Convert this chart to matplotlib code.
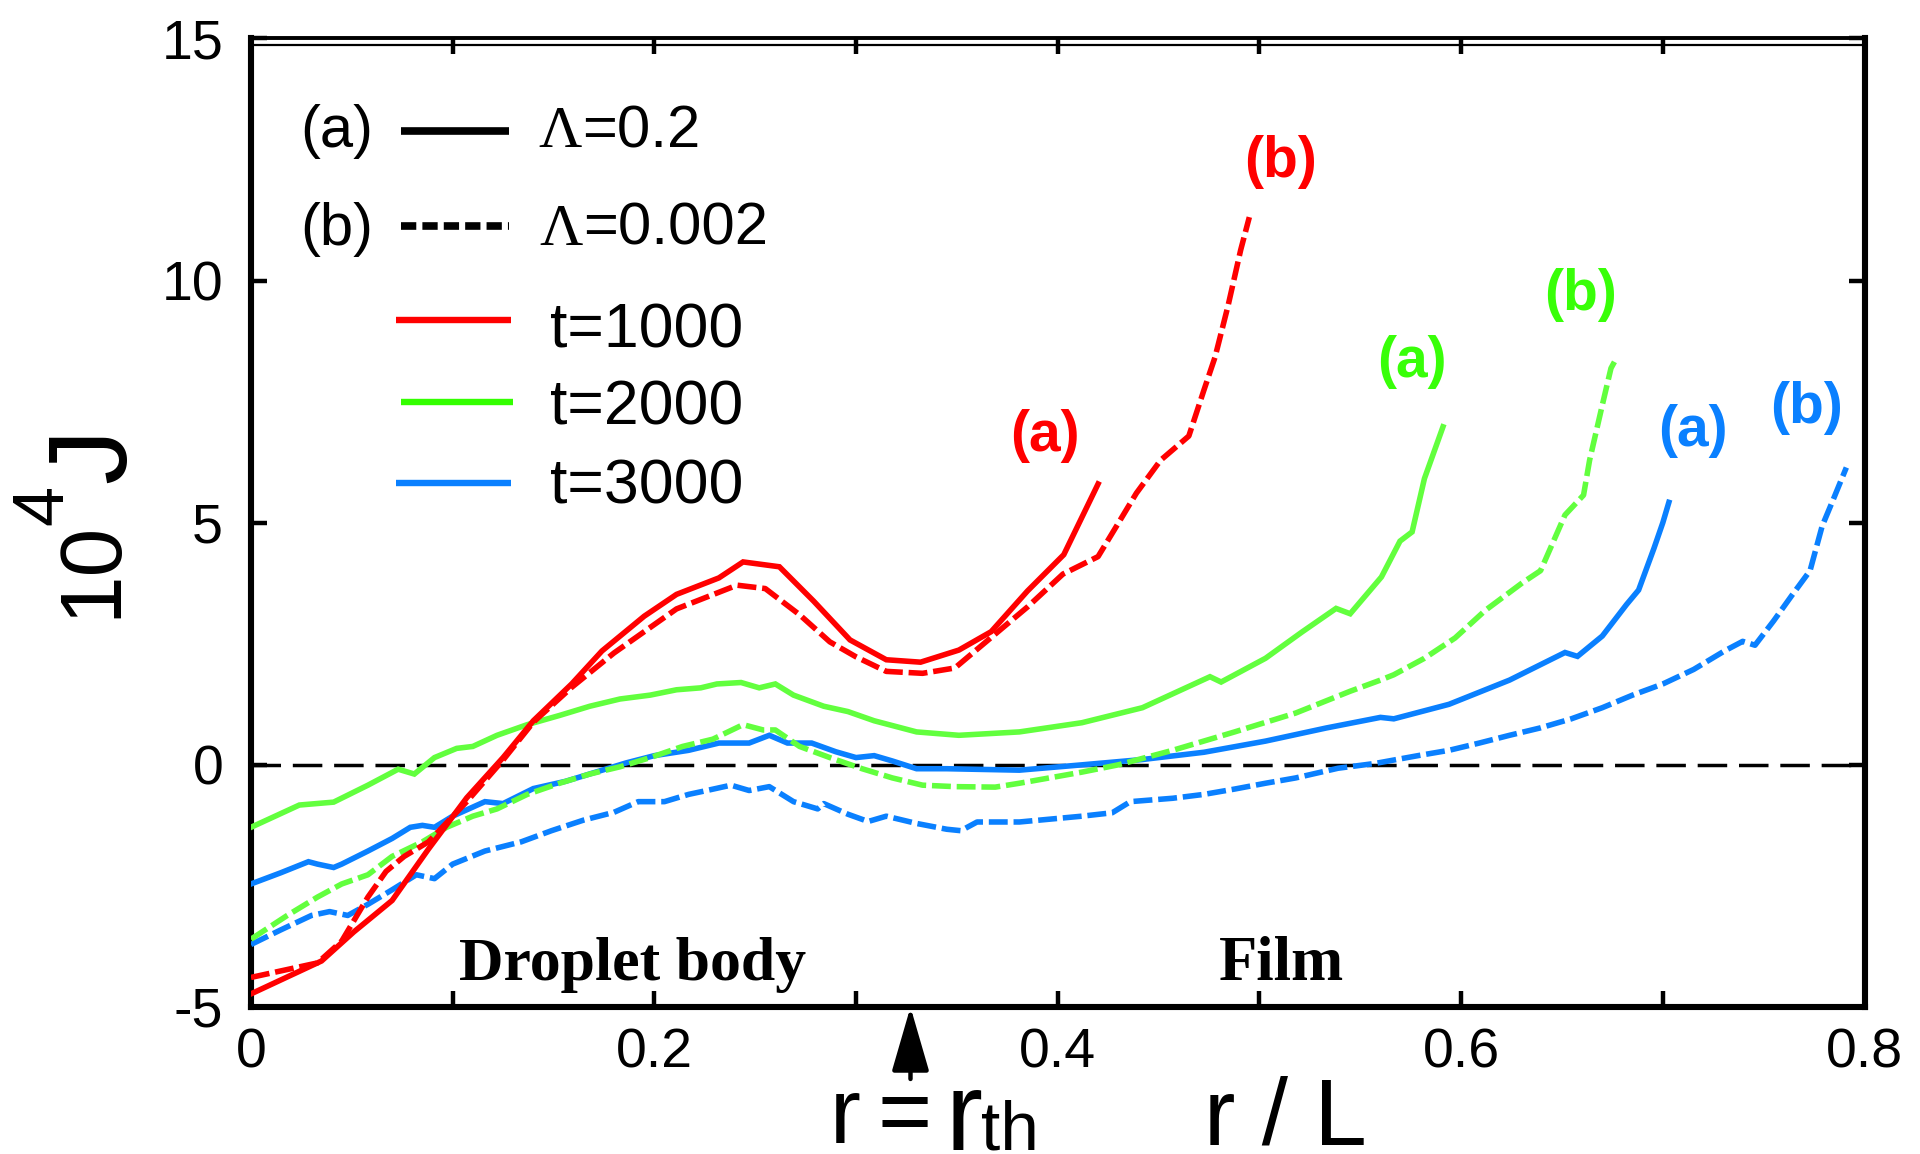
import matplotlib
matplotlib.use("Agg")
import matplotlib.pyplot as plt
from matplotlib.ticker import FixedLocator, FuncFormatter

plt.rcParams['font.family'] = ['Liberation Sans', 'DejaVu Sans']

# ---------------- data: 10^4 J versus r / L ----------------
# t = 1000
x_t1000_a = [0, 0.035, 0.051, 0.07, 0.088, 0.107, 0.125, 0.14, 0.159, 0.174, 0.195, 0.211,
             0.232, 0.244, 0.262, 0.279, 0.297, 0.315, 0.332, 0.351, 0.367, 0.385, 0.403, 0.42]
y_t1000_a = [-4.73, -4.05, -3.45, -2.8, -1.74, -0.68, 0.15, 0.91, 1.67, 2.35, 3.07, 3.52,
             3.86, 4.19, 4.09, 3.38, 2.58, 2.17, 2.12, 2.37, 2.75, 3.59, 4.34, 5.80]
x_t1000_b = [0, 0.033, 0.045, 0.058, 0.067, 0.076, 0.088, 0.107, 0.125, 0.14, 0.159, 0.18,
             0.211, 0.241, 0.255, 0.272, 0.287, 0.3, 0.315, 0.333, 0.349, 0.367, 0.385, 0.4026,
             0.42, 0.428, 0.439, 0.451, 0.465, 0.4725, 0.478, 0.4845, 0.4907, 0.495]
y_t1000_b = [-4.39, -4.09, -3.64, -2.73, -2.2, -1.89, -1.59, -0.76, 0.1, 0.88, 1.6, 2.31,
             3.22, 3.71, 3.64, 3.1, 2.54, 2.23, 1.93, 1.89, 2.0, 2.63, 3.26, 3.94,
             4.3, 4.85, 5.61, 6.29, 6.79, 7.74, 8.42, 9.49, 10.63, 11.31]

# t = 2000
x_t2000_a = [0, 0.024, 0.041, 0.058, 0.073, 0.081, 0.091, 0.102, 0.11, 0.122, 0.137, 0.153,
             0.168, 0.183, 0.198, 0.211, 0.223, 0.231, 0.243, 0.252, 0.26, 0.269, 0.284,
             0.296, 0.309, 0.33, 0.351, 0.381, 0.412, 0.442, 0.4755, 0.481, 0.503, 0.521,
             0.538, 0.545, 0.5605, 0.5697, 0.5757, 0.5818, 0.591]
y_t2000_a = [-1.29, -0.83, -0.77, -0.42, -0.09, -0.19, 0.15, 0.34, 0.38, 0.61, 0.83, 1.02,
             1.21, 1.36, 1.44, 1.55, 1.59, 1.67, 1.70, 1.59, 1.67, 1.44, 1.21,
             1.10, 0.91, 0.68, 0.61, 0.68, 0.87, 1.18, 1.82, 1.71, 2.2, 2.74,
             3.23, 3.12, 3.88, 4.62, 4.81, 5.91, 6.98]
x_t2000_b = [0, 0.018, 0.033, 0.045, 0.058, 0.07, 0.085, 0.097, 0.11, 0.122, 0.137, 0.153,
             0.168, 0.183, 0.198, 0.214, 0.229, 0.244, 0.254, 0.26, 0.272, 0.287, 0.303,
             0.318, 0.333, 0.349, 0.369, 0.381, 0.412, 0.43, 0.457, 0.4877, 0.518, 0.545,
             0.56, 0.5666, 0.5818, 0.597, 0.612, 0.6304, 0.6394, 0.6515, 0.6607, 0.6637,
             0.67, 0.6743, 0.6773]
y_t2000_b = [-3.6, -3.11, -2.73, -2.46, -2.27, -1.89, -1.59, -1.29, -1.06, -0.91, -0.61, -0.38,
             -0.19, -0.04, 0.15, 0.38, 0.53, 0.83, 0.72, 0.72, 0.38, 0.15, -0.08,
             -0.27, -0.42, -0.45, -0.46, -0.38, -0.15, 0.0, 0.30, 0.68, 1.07, 1.52,
             1.75, 1.86, 2.20, 2.62, 3.19, 3.76, 4.01, 5.16, 5.57, 6.29,
             7.43, 8.19, 8.42]

# t = 3000
x_t3000_a = [0, 0.0147, 0.0285, 0.033, 0.041, 0.045, 0.058, 0.07, 0.079, 0.085, 0.091, 0.1,
             0.116, 0.125, 0.14, 0.156, 0.171, 0.186, 0.2, 0.217, 0.232, 0.247, 0.257,
             0.266, 0.278, 0.29, 0.3, 0.309, 0.318, 0.33, 0.345, 0.381, 0.412, 0.442,
             0.4725, 0.503, 0.533, 0.56, 0.5666, 0.594, 0.624, 0.6515, 0.6577, 0.67,
             0.682, 0.688, 0.6956, 0.700, 0.703]
y_t3000_a = [-2.46, -2.23, -2.0, -2.05, -2.12, -2.05, -1.78, -1.52, -1.29, -1.25, -1.29, -1.06,
             -0.76, -0.8, -0.49, -0.34, -0.15, 0.04, 0.19, 0.30, 0.45, 0.45, 0.61,
             0.45, 0.45, 0.27, 0.15, 0.19, 0.08, -0.08, -0.08, -0.11, 0.0, 0.11,
             0.26, 0.49, 0.76, 0.98, 0.95, 1.25, 1.75, 2.32, 2.24, 2.66,
             3.31, 3.61, 4.47, 5.0, 5.42]
x_t3000_b = [0, 0.0147, 0.03, 0.039, 0.048, 0.058, 0.07, 0.082, 0.091, 0.1, 0.116, 0.134,
             0.149, 0.165, 0.18, 0.192, 0.205, 0.217, 0.226, 0.238, 0.247, 0.257, 0.269,
             0.281, 0.284, 0.296, 0.306, 0.315, 0.33, 0.345, 0.352, 0.36, 0.381, 0.412,
             0.427, 0.436, 0.457, 0.4725, 0.4877, 0.503, 0.518, 0.539, 0.5575, 0.5786,
             0.594, 0.609, 0.624, 0.639, 0.6546, 0.67, 0.685, 0.70, 0.7153, 0.7305,
             0.7396, 0.7457, 0.7549, 0.764, 0.773, 0.779, 0.785, 0.791]
y_t3000_b = [-3.71, -3.41, -3.11, -3.03, -3.11, -2.88, -2.58, -2.27, -2.35, -2.05, -1.78, -1.59,
             -1.36, -1.14, -0.98, -0.76, -0.76, -0.61, -0.53, -0.42, -0.53, -0.45, -0.76,
             -0.91, -0.8, -1.02, -1.17, -1.06, -1.21, -1.33, -1.36, -1.18, -1.18, -1.06,
             -0.99, -0.76, -0.69, -0.61, -0.50, -0.38, -0.27, -0.07, 0.03, 0.19,
             0.30, 0.45, 0.61, 0.76, 0.95, 1.18, 1.44, 1.67, 1.97, 2.35,
             2.55, 2.47, 2.97, 3.50, 4.01, 4.93, 5.53, 6.14]

# curve tags "(a)" / "(b)" placed near the ends of the curves
tag_text = ['(a)', '(b)', '(a)', '(b)', '(a)', '(b)']
tag_x = [0.3935, 0.5104, 0.5757, 0.659, 0.7147, 0.7714]
tag_y = [6.79, 12.45, 8.31, 9.71, 6.90, 7.36]

x_ticks = [0, 0.1, 0.2, 0.3, 0.4, 0.5, 0.6, 0.7, 0.8]
x_tick_labels = {0: '0', 2: '0.2', 4: '0.4', 6: '0.6', 8: '0.8'}
y_ticks = [-5, 0, 5, 10, 15]
y_tick_labels = ['-5', '0', '5', '10', '15']
r_th = 0.327

RED = '#FF0000'
GREEN = '#62FF3E'
GREEN_TXT = '#38FF08'
BLUE = '#0A80FF'

# ---------------- figure ----------------
fig = plt.figure(figsize=(19.2, 11.54), dpi=100)
ax = fig.add_axes([0.1307, 0.1274, 0.9711 - 0.1307, 0.9667 - 0.1274])
ax.set_xlim(0, 0.8)
ax.set_ylim(-5, 15)

LW = 4.0
DASH = (3.4, 1.05)

series = [
    (x_t3000_a, y_t3000_a, BLUE, '-'),
    (x_t3000_b, y_t3000_b, BLUE, '--'),
    (x_t2000_a, y_t2000_a, GREEN, '-'),
    (x_t2000_b, y_t2000_b, GREEN, '--'),
    (x_t1000_b, y_t1000_b, RED, '--'),
    (x_t1000_a, y_t1000_a, RED, '-'),
]
for xs, ys, col, ls in series:
    if ls == '-':
        ax.plot(xs, ys, color=col, lw=LW, solid_joinstyle='miter', zorder=3)
    else:
        ax.plot(xs, ys, color=col, lw=LW, dashes=DASH, zorder=3)

# zero reference line
ax.axhline(0, color='black', lw=2.5, dashes=(8.5, 3.4), zorder=2)

# tags
tag_colors = [RED, RED, GREEN_TXT, GREEN_TXT, BLUE, BLUE]
for t, x, y, c in zip(tag_text, tag_x, tag_y, tag_colors):
    ax.text(x, y, t, color=c, fontsize=41, fontweight='bold', ha='center', va='center')

# region labels
ax.text(0.189, -4.45, 'Droplet body', family='Liberation Serif', fontweight='bold',
        fontsize=44.5, ha='center', va='baseline')
ax.text(0.511, -4.45, 'Film', family='Liberation Serif', fontweight='bold',
        fontsize=45, ha='center', va='baseline')

# ---------------- legend (drawn by hand) ----------------
tA = ax.transAxes
ax.plot([0.093, 0.160], [0.9047, 0.9047], color='black', lw=5.5, transform=tA,
        solid_capstyle='butt', clip_on=False)
ax.plot([0.093, 0.160], [0.8063, 0.8063], color='black', lw=5.5, transform=tA,
        dashes=(2.0, 0.8), clip_on=False)
ax.text(0.0304, 0.8879, '(a)', fontsize=43, transform=tA, ha='left', va='baseline')
ax.text(0.0304, 0.7870, '(b)', fontsize=43, transform=tA, ha='left', va='baseline')
ax.text(0.1779, 0.8879, '\u039b', family='Liberation Serif', fontsize=43, transform=tA,
        ha='left', va='baseline')
ax.text(0.2051, 0.8879, '=0.2', fontsize=43, transform=tA, ha='left', va='baseline')
ax.text(0.1785, 0.7870, '\u039b', family='Liberation Serif', fontsize=43, transform=tA,
        ha='left', va='baseline')
ax.text(0.2057, 0.7870, '=0.002', fontsize=43, transform=tA, ha='left', va='baseline')

for (x0, x1, yy, col, lab, yb) in [
        (0.0898, 0.1612, 0.7093, RED, 't=1000', 0.6811),
        (0.0930, 0.1624, 0.6246, '#33FF00', 't=2000', 0.6009),
        (0.0898, 0.1612, 0.5405, BLUE, 't=3000', 0.5203)]:
    ax.plot([x0, x1], [yy, yy], color=col, lw=4.6, transform=tA,
            solid_capstyle='butt', clip_on=False)
    ax.text(0.1853, yb, lab, fontsize=45, transform=tA, ha='left', va='baseline')

# ---------------- axes styling ----------------
for side in ['left', 'right', 'bottom']:
    ax.spines[side].set_linewidth(4.4)
ax.spines['top'].set_linewidth(2.8)
# thin inner rule just under the top frame
ax.axhline(14.873, color='black', lw=1.6, zorder=4)

ax.xaxis.set_major_locator(FixedLocator(x_ticks))
ax.xaxis.set_major_formatter(FuncFormatter(
    lambda v, pos: x_tick_labels.get(int(round(v * 10)), '')))
ax.yaxis.set_major_locator(FixedLocator(y_ticks))
ax.yaxis.set_major_formatter(FuncFormatter(
    lambda v, pos: y_tick_labels[y_ticks.index(int(round(v)))]))
ax.tick_params(axis='both', which='major', direction='in', length=11.5, width=3.2,
               top=True, right=True, labelsize=40)
ax.tick_params(axis='x', pad=15)
ax.tick_params(axis='y', pad=20)

# y-axis title: 10^4 J, built from pieces
fig.text(0.0599, 0.4645, '10', fontsize=63, rotation=90, rotation_mode='anchor',
         ha='left', va='baseline')
fig.text(0.0323, 0.5451, '4', fontsize=52, rotation=90, rotation_mode='anchor',
         ha='left', va='baseline')
fig.text(0.0651, 0.5815, 'J', fontsize=80, rotation=90, rotation_mode='anchor',
         ha='left', va='baseline')

# x-axis title and threshold marker
fig.text(0.6271, 0.0078, 'r / L', fontsize=68, ha='left', va='baseline')
fig.text(0.4323, 0.0095, 'r', fontsize=67, ha='left', va='baseline')
fig.text(0.4568, 0.0095, '=', fontsize=67, ha='left', va='baseline')
fig.text(0.4925, 0.0035, 'r', fontsize=80, ha='left', va='baseline')
fig.text(0.5107, 0.0035, 'th', fontsize=50, ha='left', va='baseline')

ax.annotate('', xy=(r_th, -5), xycoords='data', xytext=(0, -72),
            textcoords='offset pixels',
            arrowprops=dict(arrowstyle='-|>,head_length=2.0,head_width=0.58',
                            mutation_scale=20, lw=3.2, color='black',
                            shrinkA=0, shrinkB=0),
            annotation_clip=False)

fig.savefig('out.png', dpi=100)
